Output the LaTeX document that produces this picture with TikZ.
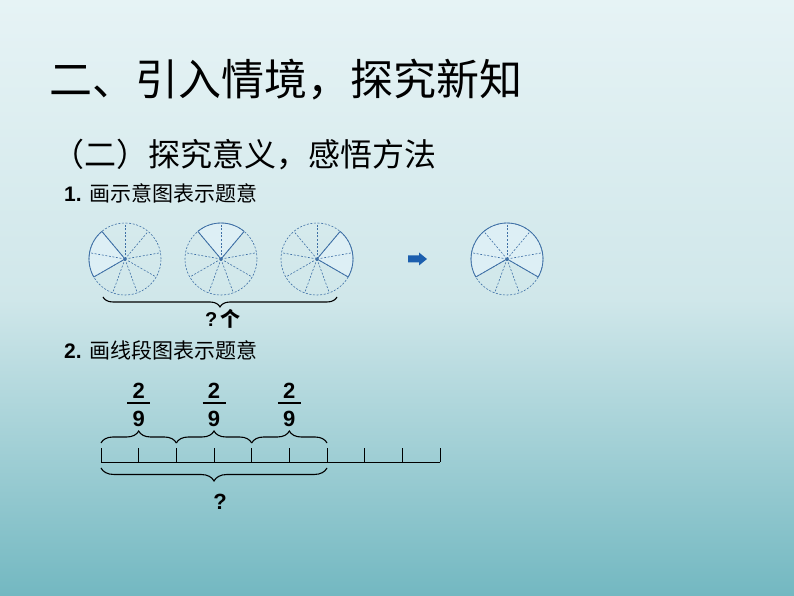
\documentclass[tikz,border=0pt]{standalone}
\usepackage{fontspec}
\setmainfont{Liberation Sans}
\newfontfamily\cjk{Noto Sans CJK SC}
\usetikzlibrary{calc,decorations.pathreplacing}

\definecolor{bgtop}{HTML}{E6F3F5}
\definecolor{bgmid}{HTML}{D0E7EA}
\definecolor{bgbot}{HTML}{73B8C1}
\definecolor{pieblue}{HTML}{3F70A6}
\definecolor{piefill}{HTML}{DDEFF5}
\definecolor{arrowblue}{HTML}{1C5FAE}

\def\rad{36}

% one circle cut into nine parts, the part from #3 to #4 marked
\newcommand{\drawpie}[4]{%
  \coordinate (#1) at (#2);
  \fill[piefill] (#1) -- ++(#3:\rad) arc[start angle=#3, end angle=#4, radius=\rad] -- cycle;
  \draw[dashline] (#1) circle[radius=\rad];
  \foreach \a in {10,50,...,330} \draw[dashline] (#1) -- ++(\a:\rad);
  \draw[solidline] (#1) ++(#3:\rad) arc[start angle=#3, end angle=#4, radius=\rad];
  \draw[solidline] (#1) -- ++(#3:\rad) (#1) -- ++(#4:\rad);
  \fill[pieblue] (#1) circle[radius=1.6];
}

\begin{document}
\begin{tikzpicture}[x=1pt, y=1pt]
    \tikzset{
        dashline/.style={pieblue, line width=0.6pt, dash pattern=on 2pt off 1.6pt},
        solidline/.style={pieblue, line width=0.8pt},
        title/.style={anchor=west, inner sep=0pt, font=\cjk\fontsize{43}{50}\selectfont},
        subtitle/.style={anchor=west, inner sep=0pt, font=\cjk\fontsize{32}{38}\selectfont},
        item/.style={anchor=west, inner sep=0pt, font=\fontsize{21}{25}\selectfont},
        digit/.style={inner sep=0pt, font=\bfseries\fontsize{22}{26}\selectfont},
        bracestyle/.style={decorate, line width=1.1pt, decoration={brace, amplitude=#1}},
        bracestyle/.default=10pt,
        seg/.style={line width=0.7pt}
        }

    % background
    \useasboundingbox (0,0) rectangle (794,596);
    \shade[top color=bgtop, bottom color=bgbot, middle color=bgmid] (0,0) rectangle (794,596);

    % headings
    \node (title) [title] at (49,516) {二、引入情境，探究新知};
    \node (subtitle) [subtitle] at (52,441) {（二）探究意义，感悟方法};
    \node (item1) [item] at (64,403) {\textbf{1.} {\cjk 画示意图表示题意}};
    \node (item2) [item] at (64,246) {\textbf{2.} {\cjk 画线段图表示题意}};

    % circles
    \drawpie{pie1}{125,337}{130}{210}
    \drawpie{pie2}{221,337}{50}{130}
    \drawpie{pie3}{317,337}{-30}{50}
    \drawpie{pie4}{507,337}{-30}{210}

    % block arrow
    \fill[arrowblue] (408,333.5) -- (419,333.5) -- (419,330.5) -- (427,337)
        -- (419,343.5) -- (419,340.5) -- (408,340.5) -- cycle;

    % brace under the circles
    \coordinate (cb1) at (103,299);
    \coordinate (cb2) at (337,299);
    \draw [bracestyle=10pt] (cb2) -- (cb1);
    \node (howmany) [inner sep=0pt, font=\bfseries\fontsize{20}{24}\selectfont] at (223,277) {?\,{\cjk 个}};

    % line segment
    \draw [seg] (101,134) -- (440,134);
    \foreach \i in {0,...,9} {
        \coordinate (t\i) at ({101+\i*37.67},134);
        \draw [seg] (t\i) -- ++(0,14);
    }

    % fractions and braces above
    \foreach \i/\j/\k in {1/0/2, 2/2/4, 3/4/6} {
        \draw [bracestyle=12pt] ([yshift=19pt]t\j) -- ([yshift=19pt]t\k);
        \node (num\i) [digit] at ($(t\j)!0.5!(t\k)+(0,71)$) {2};
        \node (den\i) [digit] at ($(t\j)!0.5!(t\k)+(0,43)$) {9};
        \draw [line width=2.4pt] ($(t\j)!0.5!(t\k)+(-11.5,59)$) -- ($(t\j)!0.5!(t\k)+(11.5,59)$);
    }

    % brace below
    \draw [bracestyle=13pt] ([yshift=-6pt]t6) -- ([yshift=-6pt]t0);
    \node (total) [digit] at (220,94) {?};
\end{tikzpicture}
\end{document}
